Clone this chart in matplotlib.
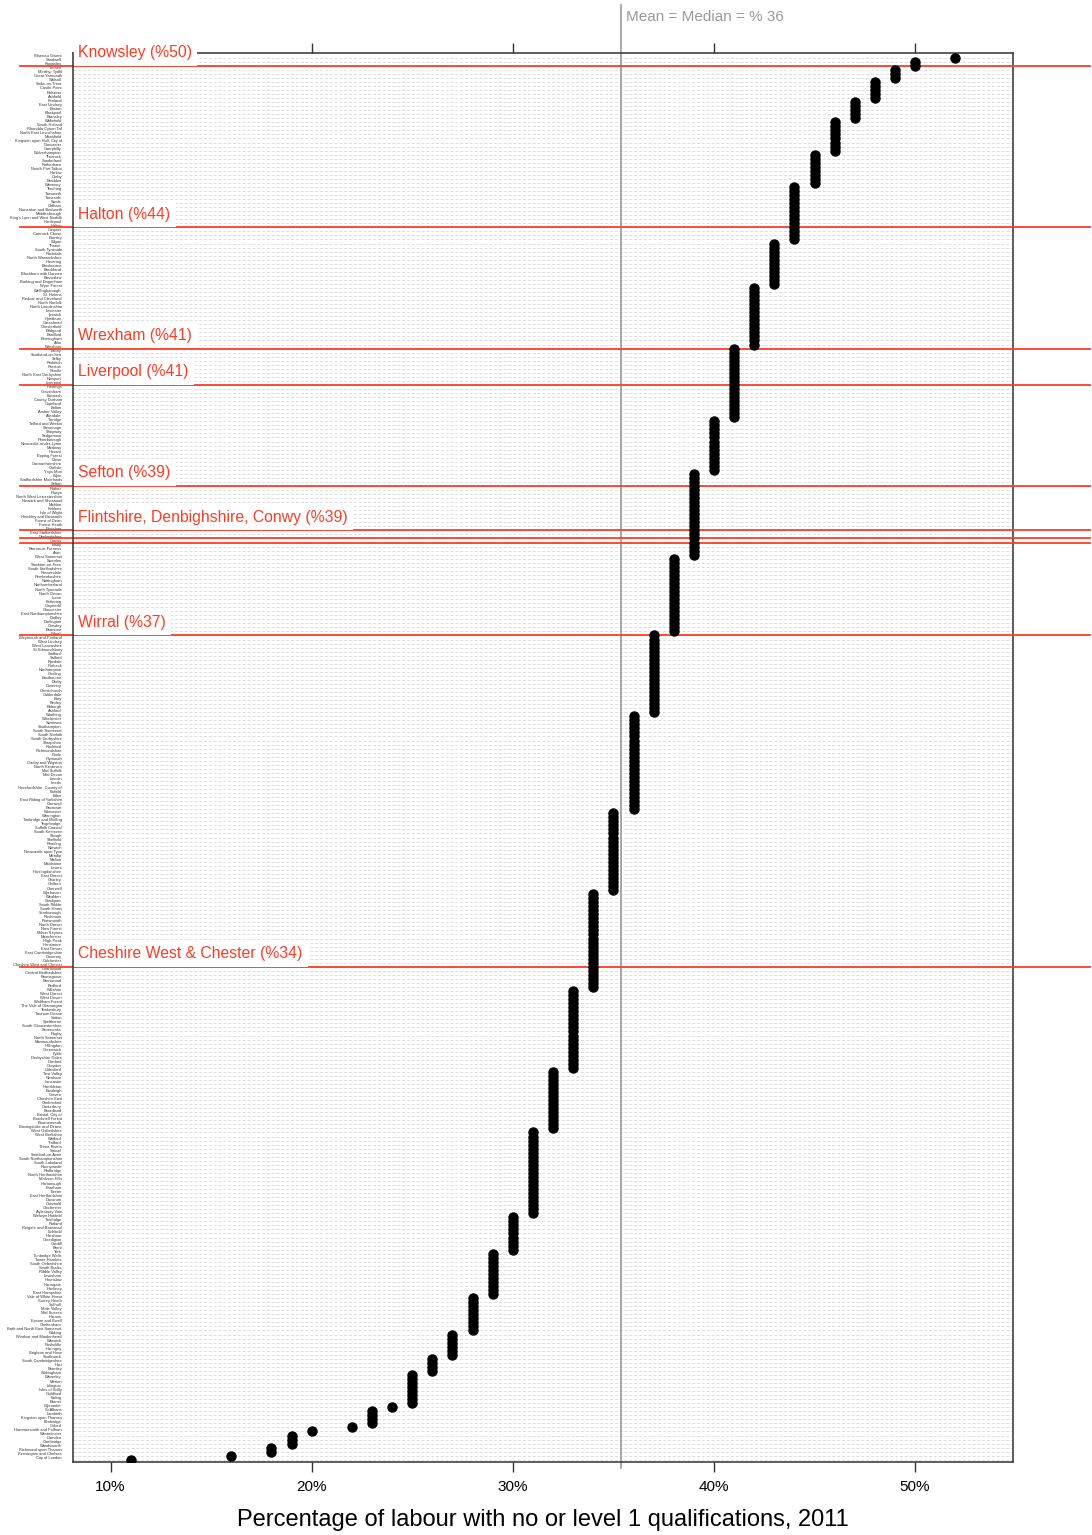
import matplotlib.pyplot as plt
from matplotlib import transforms

plt.rcParams['font.family'] = ['Liberation Sans', 'DejaVu Sans']

# local authorities, top of the chart first (value desc, then name desc)
authorities = [
    "Blaenau Gwent",
    "Sandwell", "Knowsley",
    "Torfaen", "Merthyr Tydfil", "Great Yarmouth",
    "Walsall", "Stoke-on-Trent", "Castle Point", "Bolsover", "Ashfield",
    "Fenland", "East Lindsey", "Boston", "Blackpool", "Barnsley",
    "Wakefield", "South Holland", "Rhondda Cynon Taf", "North East Lincolnshire", "Mansfield",
    "Kingston upon Hull, City of", "Doncaster", "Caerphilly",
    "Wolverhampton", "Thurrock", "Sunderland", "Rotherham", "Neath Port Talbot", "Harlow", "Corby", "Basildon",
    "Waveney", "Tendring", "Tamworth", "Tameside", "Swale", "Oldham", "Nuneaton and Bedworth",
    "Middlesbrough", "King's Lynn and West Norfolk", "Hartlepool", "Halton", "Gosport", "Cannock Chase", "Burnley",
    "Wigan", "Thanet", "South Tyneside", "Rochdale", "North Warwickshire", "Havering", "Broxbourne",
    "Breckland", "Blackburn with Darwen", "Bassetlaw", "Barking and Dagenham",
    "Wyre Forest", "Wellingborough", "St. Helens", "Redcar and Cleveland", "North Norfolk", "North Lincolnshire",
    "Leicester", "Ipswich", "Hyndburn", "Gateshead", "Chesterfield", "Bridgend", "Bradford", "Birmingham", "Adur",
    "Wrexham", "Torbay", "Southend-on-Sea", "Selby", "Redditch", "Preston", "Pendle", "North East Derbyshire",
    "Newport", "Liverpool", "Hastings", "Gravesham", "Erewash", "County Durham", "Copeland", "Bolton",
    "Amber Valley", "Allerdale",
    "Torridge", "Telford and Wrekin", "Stevenage", "Shepway", "Sedgemoor", "Peterborough", "Newcastle-under-Lyme",
    "Medway", "Havant", "Epping Forest", "Dover", "Carmarthenshire", "Carlisle",
    "Ynys Mon", "Wyre", "Staffordshire Moorlands", "Sefton", "Rother", "Powys", "North West Leicestershire",
    "Newark and Sherwood", "Maldon", "Kirklees", "Isle of Wight", "Hinckley and Bosworth", "Forest of Dean",
    "Forest Heath", "Flintshire", "East Staffordshire", "Denbighshire", "Conwy", "Blaby", "Barrow-in-Furness", "Arun",
    "West Somerset", "Swindon", "Stockton-on-Tees", "South Staffordshire", "Rossendale", "Pembrokeshire",
    "Nottingham", "Northumberland", "North Tyneside", "North Devon", "Luton", "Kettering", "Gwynedd",
    "Gloucester", "East Northamptonshire", "Dudley", "Darlington", "Crawley", "Braintree",
    "Wirral", "Weymouth and Portland", "West Lindsey", "West Lancashire", "St Edmundsbury", "Stafford", "Salford",
    "Ryedale", "Purbeck", "Northampton", "Gedling", "Eastbourne", "Derby", "Coventry", "Christchurch",
    "Calderdale", "Bury", "Bexley", "Babergh", "Ashford",
    "Worthing", "Winchester", "Swansea", "Southampton", "South Somerset", "South Norfolk", "South Derbyshire",
    "Shropshire", "Rochford", "Richmondshire", "Poole", "Plymouth", "Oadby and Wigston", "North Kesteven",
    "Mid Suffolk", "Mid Devon", "Lincoln", "Leeds", "Herefordshire, County of", "Enfield", "Eden",
    "East Riding of Yorkshire", "Cornwall", "Broxtowe",
    "Worcester", "Warrington", "Tonbridge and Malling", "Teignbridge", "Suffolk Coastal", "South Kesteven",
    "Slough", "Sheffield", "Reading", "Norwich", "Newcastle upon Tyne", "Mendip", "Melton", "Maidstone",
    "Lewes", "Huntingdonshire", "East Dorset", "Chorley", "Chiltern", "Cherwell",
    "Wychavon", "Wealden", "Stockport", "South Ribble", "South Hams", "Scarborough", "Rushmoor", "Portsmouth",
    "North Dorset", "New Forest", "Milton Keynes", "Manchester", "High Peak", "Hertsmere", "East Devon",
    "East Cambridgeshire", "Daventry", "Colchester", "Cheshire West and Chester", "Charnwood",
    "Central Bedfordshire", "Bromsgrove", "Brentwood", "Bedford",
    "Wiltshire", "West Dorset", "West Devon", "Waltham Forest", "The Vale of Glamorgan", "Tewkesbury",
    "Taunton Deane", "Sutton", "Spelthorne", "South Gloucestershire", "Sevenoaks", "Rugby", "North Somerset",
    "Monmouthshire", "Hillingdon", "Greenwich", "Fylde", "Derbyshire Dales", "Dartford", "Croydon",
    "Uttlesford", "Test Valley", "Newham", "Lancaster", "Hambleton", "Eastleigh", "Craven", "Cheshire East",
    "Chelmsford", "Canterbury", "Broadland", "Bristol, City of", "Bracknell Forest", "Bournemouth",
    "Basingstoke and Deane",
    "West Oxfordshire", "West Berkshire", "Watford", "Trafford", "Three Rivers", "Stroud", "Stratford-on-Avon",
    "South Northamptonshire", "South Lakeland", "Runnymede", "Redbridge", "North Hertfordshire", "Malvern Hills",
    "Harborough", "Fareham", "Exeter", "East Hertfordshire", "Dacorum", "Cotswold", "Chichester", "Aylesbury Vale",
    "Welwyn Hatfield", "Tandridge", "Rutland", "Reigate and Banstead", "Lichfield", "Horsham", "Ceredigion",
    "Cardiff", "Brent",
    "York", "Tunbridge Wells", "Tower Hamlets", "South Oxfordshire", "South Bucks", "Ribble Valley", "Lewisham",
    "Hounslow", "Harrogate", "Hackney", "East Hampshire",
    "Vale of White Horse", "Surrey Heath", "Solihull", "Mole Valley", "Mid Sussex", "Harrow", "Epsom and Ewell",
    "Cheltenham", "Bath and North East Somerset",
    "Woking", "Windsor and Maidenhead", "Warwick", "Rushcliffe", "Haringey", "Brighton and Hove",
    "Southwark", "South Cambridgeshire", "Hart", "Bromley",
    "Wokingham", "Waverley", "Merton", "Islington", "Isles of Scilly", "Guildford", "Ealing", "Barnet",
    "Wycombe",
    "St Albans", "Lambeth", "Kingston upon Thames", "Elmbridge",
    "Oxford",
    "Hammersmith and Fulham",
    "Westminster", "Camden", "Cambridge",
    "Wandsworth", "Richmond upon Thames",
    "Kensington and Chelsea",
    "City of London",
]

pct = [
    52,
    50, 50,
    49, 49, 49,
    48, 48, 48, 48, 48,
    47, 47, 47, 47, 47,
    46, 46, 46, 46, 46, 46, 46, 46,
    45, 45, 45, 45, 45, 45, 45, 45,
    44, 44, 44, 44, 44, 44, 44, 44, 44, 44, 44, 44, 44, 44,
    43, 43, 43, 43, 43, 43, 43, 43, 43, 43, 43,
    42, 42, 42, 42, 42, 42, 42, 42, 42, 42, 42, 42, 42, 42, 42,
    41, 41, 41, 41, 41, 41, 41, 41, 41, 41, 41, 41, 41, 41, 41, 41, 41, 41,
    40, 40, 40, 40, 40, 40, 40, 40, 40, 40, 40, 40, 40,
    39, 39, 39, 39, 39, 39, 39, 39, 39, 39, 39, 39, 39, 39, 39, 39, 39, 39, 39, 39, 39,
    38, 38, 38, 38, 38, 38, 38, 38, 38, 38, 38, 38, 38, 38, 38, 38, 38, 38, 38,
    37, 37, 37, 37, 37, 37, 37, 37, 37, 37, 37, 37, 37, 37, 37, 37, 37, 37, 37, 37,
    36, 36, 36, 36, 36, 36, 36, 36, 36, 36, 36, 36, 36, 36, 36, 36, 36, 36, 36, 36, 36, 36, 36, 36,
    35, 35, 35, 35, 35, 35, 35, 35, 35, 35, 35, 35, 35, 35, 35, 35, 35, 35, 35, 35,
    34, 34, 34, 34, 34, 34, 34, 34, 34, 34, 34, 34, 34, 34, 34, 34, 34, 34, 34, 34, 34, 34, 34, 34,
    33, 33, 33, 33, 33, 33, 33, 33, 33, 33, 33, 33, 33, 33, 33, 33, 33, 33, 33, 33,
    32, 32, 32, 32, 32, 32, 32, 32, 32, 32, 32, 32, 32, 32, 32,
    31, 31, 31, 31, 31, 31, 31, 31, 31, 31, 31, 31, 31, 31, 31, 31, 31, 31, 31, 31, 31,
    30, 30, 30, 30, 30, 30, 30, 30, 30,
    29, 29, 29, 29, 29, 29, 29, 29, 29, 29, 29,
    28, 28, 28, 28, 28, 28, 28, 28, 28,
    27, 27, 27, 27, 27, 27,
    26, 26, 26, 26,
    25, 25, 25, 25, 25, 25, 25, 25,
    24,
    23, 23, 23, 23,
    22,
    20,
    19, 19, 19,
    18, 18,
    16,
    11,
]

# highlighted rows and the text shown above them
highlights = [
    (["Knowsley"], "Knowsley"),
    (["Halton"], "Halton"),
    (["Wrexham"], "Wrexham"),
    (["Liverpool"], "Liverpool"),
    (["Sefton"], "Sefton"),
    (["Flintshire", "Denbighshire", "Conwy"], "Flintshire, Denbighshire, Conwy"),
    (["Wirral"], "Wirral"),
    (["Cheshire West and Chester"], "Cheshire West & Chester"),
]

mean_pct = 35.4
mean_label = "Mean = Median = % 36"
xticks = [10, 20, 30, 40, 50]
xlabel = "Percentage of labour with no or level 1 qualifications, 2011"

RED = '#ff3b24'
W, H = 1092, 1535

n = len(authorities)
ypos = [n - i for i in range(n)]
row = dict(zip(authorities, ypos))
value = dict(zip(authorities, pct))

fig = plt.figure(figsize=(W / 100, H / 100), dpi=100)
ax = fig.add_axes([73 / W, 73 / H, 940 / W, 1409 / H])

lo, hi = min(pct), max(pct)
pad = 0.07 * (hi - lo)
ax.set_xlim(lo - pad, hi + pad)
ax.set_ylim(0.45, n + 1.15)

# dashed guide line per authority
ax.hlines(ypos, lo - pad, hi + pad, colors='#d8d8d8', linewidth=0.6,
          linestyles=(0, (3.6, 2.2)), zorder=1)

ax.plot(pct, ypos, 'o', color='black', ms=6.5, zorder=4)

# mean / median
ax.axvline(mean_pct, ymin=-0.004, ymax=1.034, color='#9a9a9a', lw=1.2,
           clip_on=False, zorder=2)
ax.annotate(mean_label, xy=(mean_pct, 1.0255),
            xycoords=transforms.blended_transform_factory(ax.transData, ax.transAxes),
            xytext=(3.5, 0), textcoords='offset points', ha='left', va='center',
            color='#9a9a9a', fontsize=11)

# red markers for the highlighted authorities
trans = transforms.blended_transform_factory(fig.transFigure, ax.transData)
for names, label in highlights:
    for nm in names:
        ax.plot([20 / W, 1090 / W], [row[nm], row[nm]], transform=trans,
                color=RED, lw=1.3, clip_on=False, zorder=3)
    top = max(row[nm] for nm in names)
    ax.annotate(f"{label} (%{value[names[0]]})", xy=(78 / W, top), xycoords=trans,
                xytext=(0, 9.5), textcoords='offset points', ha='left', va='center',
                color=RED, fontsize=11.3, zorder=6,
                bbox=dict(facecolor='white', edgecolor='none', pad=4))

ax.set_yticks(ypos)
ax.set_yticklabels(authorities, fontsize=2.9, color='#333333')
ax.tick_params(axis='y', length=0, pad=8)
shift = transforms.ScaledTranslation(0, 2 / 100, fig.dpi_scale_trans)
for t in ax.get_yticklabels():
    t.set_transform(t.get_transform() + shift)

ax.set_xticks(xticks)
ax.set_xticklabels([f"{t}%" for t in xticks])
ax.tick_params(axis='x', direction='out', length=7, width=1, color='#333333',
               top=True, labelsize=11, pad=6)

for sp in ax.spines.values():
    sp.set_color('#333333')
    sp.set_linewidth(1.1)
# the label boxes hide the top frame, but the left frame stays visible
ax.spines['left'].set_zorder(7)

fig.text(543 / W, 1 - 1520 / H, xlabel, ha='center', va='center', fontsize=17)

fig.savefig('out.png', dpi=100)
